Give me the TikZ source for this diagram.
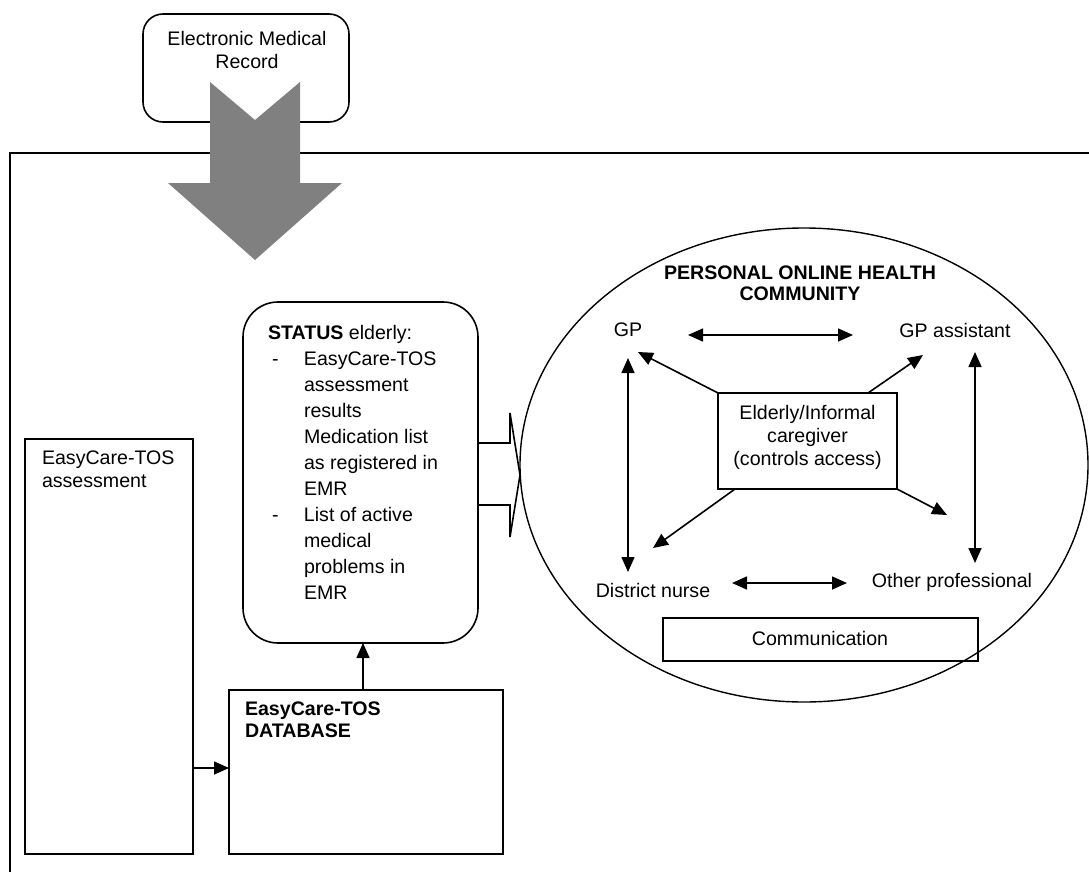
\documentclass[tikz,border=0pt]{standalone}
\usepackage{fontspec}
\setmainfont{Liberation Sans}
\usetikzlibrary{arrows.meta,shapes.geometric}
\definecolor{arrowgray}{HTML}{808080}
\newcommand{\ind}{\hspace*{36pt}}
\newcommand{\dsh}{\makebox[36pt][l]{\hspace*{4pt}-}}
\begin{document}
\begin{tikzpicture}[x=1pt,y=-1pt,
  every node/.style={font=\fontsize{19.6}{23}\selectfont, inner sep=0pt, outer sep=0pt},
  box/.style={draw, line width=1.6pt},
  rbox/.style={box, rounded corners=20pt},
  tip/.tip={Triangle[length=15pt,width=13pt]},
  arr/.style={line width=1.6pt, -tip},
  darr/.style={line width=1.6pt, tip-tip}]
\useasboundingbox (0,0) rectangle (1089,872);

% Electronic Medical Record
\node[rbox, minimum width=206pt, minimum height=108pt] (emr) at (246,68) {};
\node[align=center] (emrt) at (247,50) {Electronic Medical\\Record};

% outer frame
\draw[line width=1.6pt] (10,872) -- (10,153) -- (1089,153);

% big gray arrow
\fill[arrowgray] (210,82) -- (255,120) -- (300,82) -- (300,183) -- (342,183)
  -- (255,260) -- (168,183) -- (210,183) -- cycle;

% status box
\node[box, rounded corners=35pt, minimum width=235pt, minimum height=341pt] (st) at (360.5,472.5) {};
\node[align=left, anchor=north west, font=\fontsize{19.6}{26}\selectfont] (stt) at (268,325)
  {\textbf{STATUS} elderly:\\
   \dsh EasyCare-TOS\\
   \ind assessment\\
   \ind results\\
   \ind Medication list\\
   \ind as registered in\\
   \ind EMR\\
   \dsh List of active\\
   \ind medical\\
   \ind problems in\\
   \ind EMR};

% hollow arrow to community
\coordinate (h1) at (510,443);
\coordinate (h2) at (510,413);
\coordinate (h3) at (520,475);
\coordinate (h4) at (510,537);
\coordinate (h5) at (510,505);
\draw[line width=1.6pt, line join=miter] (st.east |- h1) -- (h1) -- (h2) -- (h3) -- (h4) -- (h5) -- (st.east |- h5);

% community ellipse
\node[ellipse, draw, line width=1.4pt, minimum width=568pt, minimum height=474pt] (poh) at (804,465) {};
\node[align=center, font=\fontsize{19.6}{21}\selectfont\bfseries] (title) at (800,283) {PERSONAL ONLINE HEALTH\\COMMUNITY};

\node (gp) at (628,330) {GP};
\node (gpa) at (955,330) {GP assistant};
\node (dn) at (653,590) {District nurse};
\node (op) at (952,582) {Other professional};

\node[box, minimum width=179pt, minimum height=96pt] (eld) at (807.5,441) {};
\node[align=center] (eldt) at (807.5,437) {Elderly/Informal\\caregiver\\(controls access)};

\node[box, minimum width=315pt, minimum height=43pt] (com) at (820.5,639.5) {};
\node (comt) at (820,638) {Communication};

% coordinates for arrow ends
\coordinate (gpR) at (688,335);
\coordinate (gpaL) at (853,335);
\coordinate (gpD) at (628,358);
\coordinate (dnU) at (628,572);
\coordinate (gpaD) at (975,352);
\coordinate (opU) at (975,563);
\coordinate (dnR) at (732,583);
\coordinate (opL) at (847,583);
\coordinate (toGP) at (638,352);
\coordinate (eNE) at (868,393);
\coordinate (toGPA) at (923,355);
\coordinate (eSW) at (735,489);
\coordinate (toDN) at (653,548);
\coordinate (toOP) at (947,515);

\draw[darr] (gpR) -- (gpaL);
\draw[darr] (gpD) -- (dnU);
\draw[darr] (gpaD) -- (opU);
\draw[darr] (dnR) -- (opL);
\draw[arr] (eld.north west) -- (toGP);
\draw[arr] (eNE) -- (toGPA);
\draw[arr] (eSW) -- (toDN);
\draw[arr] (eld.south east) -- (toOP);

% assessment & database
\node[box, minimum width=168pt, minimum height=415pt] (as) at (109,646.5) {};
\node[align=left, anchor=north west] (ast) at (42,451) {EasyCare-TOS\\assessment};
\node[box, minimum width=274pt, minimum height=164pt] (db) at (366,772) {};
\node[align=left, anchor=north west, font=\fontsize{19.6}{22}\selectfont\bfseries] (dbt) at (245,702) {EasyCare-TOS\\DATABASE};

\coordinate (a1) at (0,768);
\coordinate (b1) at (363,0);
\draw[arr] (as.east |- a1) -- (db.west |- a1);
\draw[arr] (db.north -| b1) -- (st.south -| b1);
\end{tikzpicture}
\end{document}
